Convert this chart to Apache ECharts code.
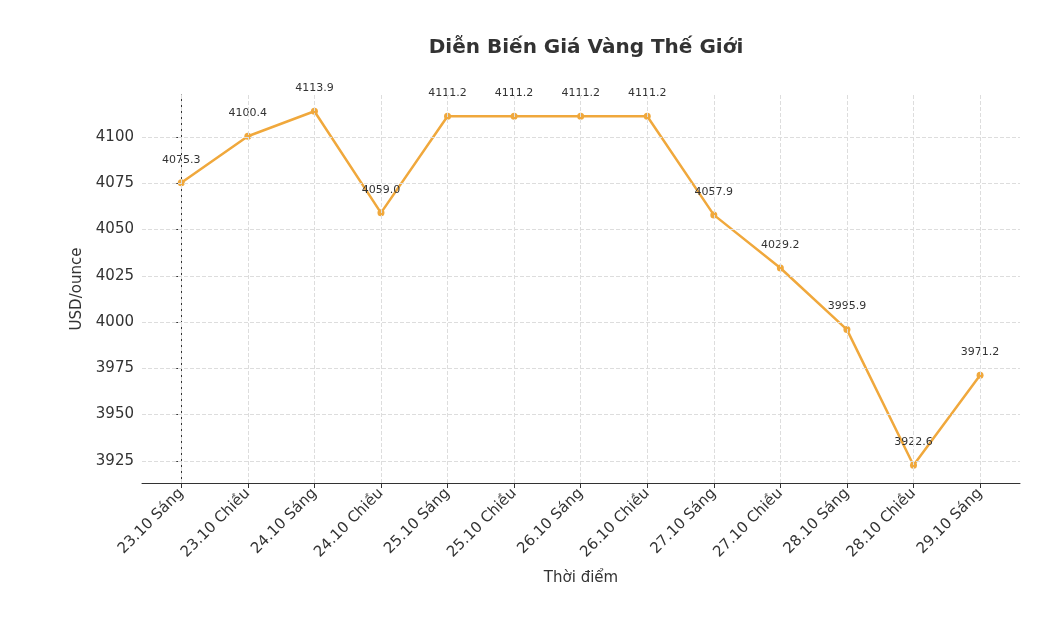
<!DOCTYPE html>
<html><head><meta charset="utf-8">
<script src="https://cdn.jsdelivr.net/npm/echarts@6/dist/echarts.min.js"></script>
<style>html,body{margin:0;background:#fff}#c{width:1054px;height:620px}</style>
</head><body><div id="c"></div>
<script>
const categories = ["23.10 Sáng","23.10 Chiều","24.10 Sáng","24.10 Chiều","25.10 Sáng","25.10 Chiều","26.10 Sáng","26.10 Chiều","27.10 Sáng","27.10 Chiều","28.10 Sáng","28.10 Chiều","29.10 Sáng"];
const prices = [4075.3,4100.4,4113.9,4059.0,4111.2,4111.2,4111.2,4111.2,4057.9,4029.2,3995.9,3922.6,3971.2];
const yTicks = [3925,3950,3975,4000,4025,4050,4075,4100];
const xIdx = categories.map((c,i)=>i);
const chart = echarts.init(document.getElementById('c'));
const font = 'DejaVu Sans';
const grid = {type:'dashed',color:'#ddd',width:1};
chart.setOption({
  animation:false,
  textStyle:{fontFamily:font},
  title:{text:'Diễn Biến Giá Vàng Thế Giới',left:581,top:33,textAlign:'center',textStyle:{fontFamily:font,fontSize:20,fontWeight:'bold',color:'#333'}},
  grid:{left:142,right:34,top:95,bottom:137},
  xAxis:{type:'value',min:-0.59,max:12.6,
    name:'Thời điểm',nameLocation:'middle',nameGap:88,nameTextStyle:{fontSize:15,color:'#333'},
    axisLine:{lineStyle:{color:'#333'}},axisTick:{customValues:xIdx,lineStyle:{color:'#333'}},
    axisLabel:{rotate:45,fontSize:15,color:'#333',customValues:xIdx,formatter:v=>categories[Math.round(v)]},
    splitLine:{show:false}},
  yAxis:{type:'value',min:3913,max:4122.7,
    name:'USD/ounce',nameLocation:'middle',nameGap:50,nameTextStyle:{fontSize:15,color:'#333'},
    axisLine:{show:true,lineStyle:{color:'#333'}},axisTick:{show:true,customValues:yTicks,lineStyle:{color:'#333'}},
    axisLabel:{fontSize:15,color:'#333',customValues:yTicks,formatter:v=>String(v)},
    splitLine:{show:false}},
  series:[{type:'line',data:prices.map((p,i)=>[i,p]),color:'#f0a83c',lineStyle:{width:2.5},symbol:'circle',symbolSize:7,
    label:{show:true,position:'top',distance:14,fontSize:11,color:'#333',formatter:p=>p.value[1].toFixed(1)},
    markLine:{silent:true,symbol:'none',label:{show:false},lineStyle:grid,
      data:yTicks.map(v=>({yAxis:v})).concat(xIdx.map(v=>({xAxis:v})))}}]
});
</script>
</body></html>
